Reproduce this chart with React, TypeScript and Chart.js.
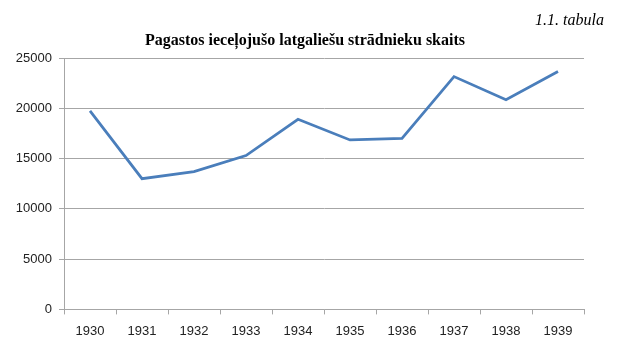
import React, { useEffect, useRef } from "react";
import { Chart, registerables } from "chart.js";

Chart.register(...registerables);

const TABLE_LABEL = "1.1. tabula";
const TITLE = "Pagastos ieceļojušo latgaliešu strādnieku skaits";
const YEARS = ["1930", "1931", "1932", "1933", "1934", "1935", "1936", "1937", "1938", "1939"];
const WORKERS = [19750, 13000, 13700, 15300, 18900, 16850, 17000, 23150, 20850, 23650];
const Y_MIN = 0;
const Y_MAX = 25000;
const Y_STEP = 5000;

const headerPlugin = {
  id: "headerText",
  afterDraw(chart: any) {
    const ctx = chart.ctx;
    ctx.save();
    ctx.fillStyle = "#000";
    ctx.textBaseline = "middle";
    ctx.font = 'italic 16px "Liberation Serif"';
    ctx.textAlign = "right";
    ctx.fillText(TABLE_LABEL, 604, 21);
    ctx.font = 'bold 16px "Liberation Serif"';
    ctx.textAlign = "center";
    ctx.fillText(TITLE, 305, 41);
    ctx.restore();
  },
};

export default function App() {
  const ref = useRef<HTMLCanvasElement | null>(null);
  useEffect(() => {
    if (!ref.current) return;
    const chart = new Chart(ref.current, {
      type: "line",
      data: {
        labels: YEARS,
        datasets: [
          {
            data: WORKERS,
            borderColor: "#4a7ebb",
            borderWidth: 2.75,
            pointRadius: 0,
            pointHoverRadius: 0,
            tension: 0,
            fill: false,
          },
        ],
      },
      options: {
        responsive: false,
        animation: false,
        layout: { padding: { top: 58, right: 36, bottom: 8, left: 0 } },
        plugins: {
          legend: { display: false },
          tooltip: { enabled: false },
        },
        scales: {
          x: {
            offset: true,
            grid: {
              offset: true,
              drawOnChartArea: false,
              drawTicks: true,
              tickLength: 5,
              color: "#a6a6a6",
            },
            border: { color: "#a6a6a6", width: 1 },
            ticks: {
              color: "#222",
              font: { family: '"Liberation Sans"', size: 13 },
              padding: 9,
              maxRotation: 0,
              autoSkip: false,
            },
          },
          y: {
            min: Y_MIN,
            max: Y_MAX,
            afterFit(scale: any) {
              scale.width = 64;
            },
            grid: {
              color: "#a6a6a6",
              tickLength: 5,
              drawTicks: true,
            },
            border: { color: "#a6a6a6", width: 1 },
            ticks: {
              stepSize: Y_STEP,
              color: "#222",
              font: { family: '"Liberation Sans"', size: 13 },
              padding: 7,
              callback: (v: any) => String(v),
            },
          },
        },
      },
      plugins: [headerPlugin],
    });
    return () => chart.destroy();
  }, []);
  return (
    <div style={{ position: "fixed", left: 0, top: 0, width: 620, height: 356, background: "#fff" }}>
      <canvas ref={ref} width={620} height={356} style={{ display: "block" }} />
    </div>
  );
}
